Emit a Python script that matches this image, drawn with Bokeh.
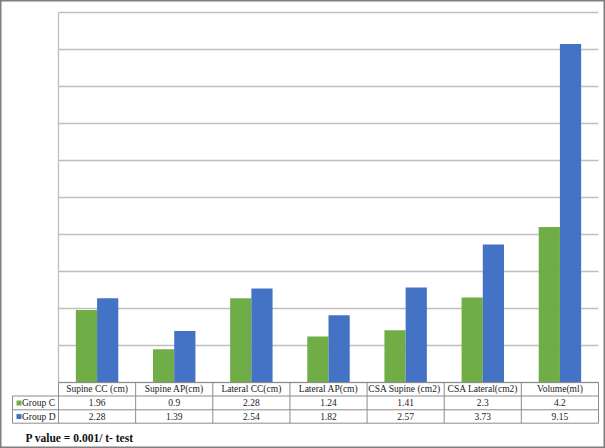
from bokeh.plotting import figure
from bokeh.models import Range1d, ColumnDataSource
from bokeh.core.properties import value
from bokeh.embed import file_html
from bokeh.resources import INLINE

# ---------------- data ----------------
categories = ["Supine CC (cm)", "Supine AP(cm)", "Lateral CC(cm)", "Lateral AP(cm)",
              "CSA  Supine (cm2)", "CSA Lateral(cm2)", "Volume(ml)"]
group_c = [1.96, 0.9, 2.28, 1.24, 1.41, 2.3, 4.2]
group_d = [2.28, 1.39, 2.54, 1.82, 2.57, 3.73, 9.15]
series_names = ["Group C", "Group D"]
y_ticks = list(range(0, 11))
note = "P value = 0.001/ t- test"

# ---------------- styling ----------------
colors = ["#70ad47", "#4472c4"]
grid_color = "#bfbfbf"
table_color = "#8c8c8c"
text_color = "#1a1a1a"
serif = value("Liberation Serif")

W, H = 605, 448
PX_X = 540 / 7.0      # pixels per category
PX_Y = 37.0           # pixels per value unit
x_start = -58 / PX_X
y_top = 382 / PX_Y

p = figure(width=W, height=H,
           x_range=Range1d(x_start, x_start + W / PX_X),
           y_range=Range1d(y_top - H / PX_Y, y_top),
           output_backend="svg", toolbar_location=None,
           x_axis_location=None, y_axis_location=None,
           min_border=0)
p.grid.visible = False
p.outline_line_color = "#7f7f7f"
p.outline_line_width = 2
p.background_fill_color = "white"
p.border_fill_color = "white"

n = len(categories)
centers = [i + 0.5 for i in range(n)]

# gridlines across the plot area
p.segment(x0=[0] * len(y_ticks), x1=[n] * len(y_ticks), y0=y_ticks, y1=y_ticks,
          line_color=grid_color, line_width=1.3)
# left edge of plot area
p.segment(x0=[0], x1=[0], y0=[0], y1=[y_ticks[-1]], line_color=grid_color, line_width=1.3)

# bars
bw = 0.275
src = ColumnDataSource(dict(
    xc=[c - bw / 2 for c in centers],
    xd=[c + bw / 2 for c in centers],
    c=group_c, d=group_d))
p.vbar(x="xc", top="c", bottom=0, width=bw, source=src, fill_color=colors[0], line_color=None)
p.vbar(x="xd", top="d", bottom=0, width=bw, source=src, fill_color=colors[1], line_color=None)

# ---------------- data table below the chart ----------------
row_lines = [0, -0.365, -0.738, -1.100]
leg_left = -46 / PX_X
# horizontal lines
p.segment(x0=[0], x1=[n], y0=[row_lines[0]], y1=[row_lines[0]], line_color=table_color, line_width=1)
p.segment(x0=[leg_left] * 3, x1=[n] * 3, y0=row_lines[1:], y1=row_lines[1:],
          line_color=table_color, line_width=1)
# vertical lines
p.segment(x0=list(range(n + 1)), x1=list(range(n + 1)),
          y0=[row_lines[0]] * (n + 1), y1=[row_lines[-1]] * (n + 1),
          line_color=table_color, line_width=1)
p.segment(x0=[leg_left], x1=[leg_left], y0=[row_lines[1]], y1=[row_lines[-1]],
          line_color=table_color, line_width=1)

row_mid = [(row_lines[i] + row_lines[i + 1]) / 2 for i in range(3)]

p.text(x=centers, y=[row_mid[0]] * n, text=categories, text_font=serif,
       text_font_size="9.5px", text_align="center", text_baseline="middle",
       text_color=text_color)
for k, vals in enumerate([group_c, group_d]):
    p.text(x=centers, y=[row_mid[k + 1]] * n, text=[f"{v:g}" for v in vals],
           text_font=serif, text_font_size="9.5px", text_align="center",
           text_baseline="middle", text_color=text_color)

# legend keys inside the table
p.scatter(x=[-39.5 / PX_X] * 2, y=row_mid[1:], marker="square", size=5,
          fill_color=colors, line_color=None)
p.text(x=[-36.5 / PX_X] * 2, y=row_mid[1:], text=series_names, text_font=serif,
       text_font_size="9.5px", text_align="left", text_baseline="middle",
       text_color=text_color)

# note
p.text(x=[-33 / PX_X], y=[-55 / PX_Y], text=[note], text_font=serif,
       text_font_size="11.5px", text_font_style="bold", text_align="left",
       text_baseline="middle", text_color="#111111")

open("out.html", "w").write(file_html(p, INLINE))
